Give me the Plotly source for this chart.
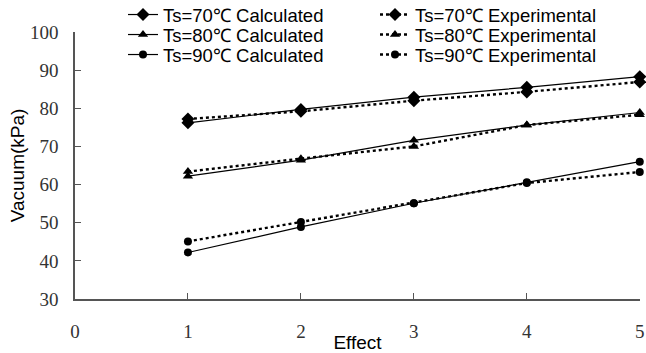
import plotly.graph_objects as go

effects = [1, 2, 3, 4, 5]
calc_70 = [76.2, 79.7, 82.9, 85.5, 88.3]
exp_70 = [77.2, 79.2, 82.0, 84.3, 86.9]
calc_80 = [62.2, 66.4, 71.6, 75.6, 78.9]
exp_80 = [63.4, 66.8, 70.0, 75.6, 78.3]
calc_90 = [42.2, 48.9, 55.1, 60.6, 66.0]
exp_90 = [45.1, 50.2, 55.1, 60.4, 63.3]

series = [
    ("Ts=70\u2103 Calculated", calc_70, "solid", "diamond"),
    ("Ts=80\u2103 Calculated", calc_80, "solid", "triangle-up"),
    ("Ts=90\u2103 Calculated", calc_90, "solid", "circle"),
    ("Ts=70\u2103 Experimental", exp_70, "dot", "diamond"),
    ("Ts=80\u2103 Experimental", exp_80, "dot", "triangle-up"),
    ("Ts=90\u2103 Experimental", exp_90, "dot", "circle"),
]
msize = {"diamond": 10, "triangle-up": 9, "circle": 8}

W, H = 646, 353
ML, MR, MT, MB = 75, 6, 32, 54
plot_h = H - MT - MB
plot_w = W - ML - MR

fig = go.Figure()
legend_names = ["legend", "legend2", "legend3", "legend4", "legend5", "legend6"]
for i, (name, ys, dash, sym) in enumerate(series):
    fig.add_trace(go.Scatter(
        x=effects, y=ys, name=name, mode="lines+markers",
        line=dict(color="black", width=1.2 if dash == "solid" else 2.4,
                  dash="solid" if dash == "solid" else "3px,3px"),
        marker=dict(symbol=sym, size=msize[sym], color="black"),
        cliponaxis=False, legend=legend_names[i],
    ))

row_centers = [15, 35, 55]  # px from top
col_text_x = [165, 417]     # px where legend text begins
legends = {}
for i, lname in enumerate(legend_names):
    col, row = divmod(i, 3)
    legends[lname] = dict(
        font=dict(family="Liberation Sans", size=18.5, color="black"),
        bgcolor="rgba(0,0,0,0)", yanchor="middle", xanchor="left",
        x=(col_text_x[col] - 42 - ML) / plot_w,
        y=(H - MB - row_centers[row]) / plot_h,
        itemsizing="trace", borderwidth=0,
    )

serif = dict(family="Liberation Serif", size=19, color="#333")
fig.update_layout(
    width=W, height=H,
    margin=dict(l=ML, r=MR, t=MT, b=MB, autoexpand=False),
    paper_bgcolor="white", plot_bgcolor="white",
    showlegend=True,
    **legends,
    xaxis=dict(
        range=[0, 5.002], tickvals=[0, 1, 2, 3, 4, 5], showgrid=False, zeroline=False,
        showline=True, linecolor="#555", linewidth=1.5, automargin=False,
        ticks="inside", ticklen=6, tickcolor="#555", ticklabelstandoff=14,
        tickfont=serif,
        title=dict(text="Effect", font=dict(family="Liberation Sans", size=19, color="black"), standoff=0),
    ),
    yaxis=dict(
        range=[30, 100], tickvals=[30, 40, 50, 60, 70, 80, 90, 100], showgrid=False, zeroline=False,
        showline=True, linecolor="#555", linewidth=1.5, automargin=False,
        ticks="inside", ticklen=6, tickcolor="#555", ticklabelstandoff=11,
        tickfont=serif,
        title=dict(text="Vacuum(kPa)", font=dict(family="Liberation Sans", size=19, color="black"), standoff=0),
    ),
)
fig.write_html(
    "out.html",
    config={"displayModeBar": False},
    post_script="document.body.style.margin='0';document.body.style.overflow='hidden';",
)
